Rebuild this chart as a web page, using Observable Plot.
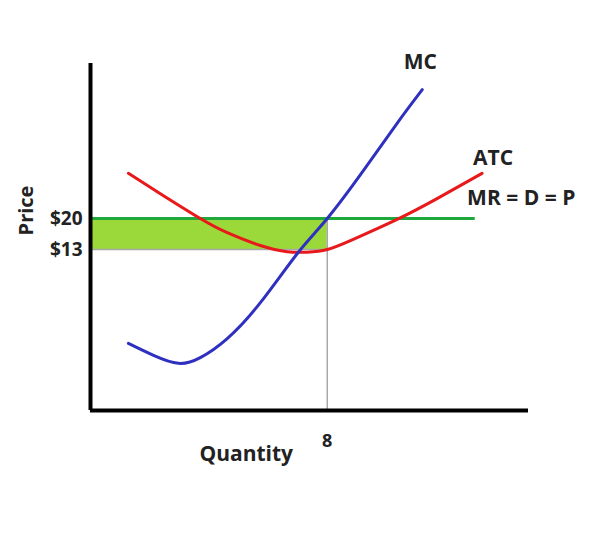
<!DOCTYPE html>
<html>
<head>
<meta charset="utf-8">
<script src="https://cdn.jsdelivr.net/npm/d3@7"></script>
<script src="https://cdn.jsdelivr.net/npm/@observablehq/plot@0.6"></script>
<style>
  html, body { margin: 0; padding: 0; background: #fff; }
  #chart svg { display: block; }
</style>
</head>
<body>
<div id="chart"></div>
<script>
// Market price (MR = D = P), ATC at the profit-maximising quantity, and that quantity
const price = 20;
const atcAtQ = 13;
const qStar = 8;
const qMax = 14.8;    // end of quantity axis
const pMin = -23.35;  // price level at the (schematic) quantity axis
const pMax = 55;      // top of price axis
const mrEnd = 13.0;   // where the MR = D = P line stops

// Marginal cost curve (schematic price units)
const mcQ = [1.28, 2.13, 2.97, 3.71, 4.62, 5.74, 6.99, 8.0, 9.22, 10.36, 11.21];
const mcP = [-8.2, -10.9, -12.7, -11.4, -7.1, 1.0, 12.1, 20, 30.8, 41.5, 49.1];

// Average total cost curve
const atcQ = [1.28, 2.36, 3.71, 4.62, 5.74, 6.65, 7.32, 8.0, 8.88, 10.36, 11.71, 13.23];
const atcP = [30.2, 25.6, 20.0, 16.8, 13.9, 12.5, 12.4, 13.0, 15.3, 19.8, 24.5, 30.2];

// Tick labels
const priceTicks = [13, 20];
const priceTickLabels = ["$13", "$20"];
const qTicks = [8];
const qTickLabels = ["8"];

const mc = mcQ.map((q, i) => ({q, p: mcP[i]}));
const atc = atcQ.map((q, i) => ({q, p: atcP[i]}));

const font = "Open Sans";
const ink = "#222";

const chart = Plot.plot({
  width: 603,
  height: 544,
  marginLeft: 90,
  marginRight: 75,
  marginTop: 63,
  marginBottom: 134,
  style: {fontFamily: font, background: "#fff"},
  x: {domain: [0, qMax], axis: null},
  y: {domain: [pMin, pMax], axis: null},
  marks: [
    // profit rectangle
    Plot.rect([{}], {x1: 0, x2: qStar, y1: atcAtQ, y2: price, fill: "#9bd93a"}),
    // guide lines
    Plot.ruleY([atcAtQ], {x1: 0, x2: qStar, stroke: "#a8a8a8", strokeWidth: 1.5}),
    Plot.ruleX([qStar], {y1: pMin, y2: price, stroke: "#a8a8a8", strokeWidth: 1.5}),
    // MR = D = P
    Plot.ruleY([price], {x1: 0, x2: mrEnd, stroke: "#1fa83c", strokeWidth: 3}),
    // ATC
    Plot.line(atc, {x: "q", y: "p", stroke: "#e8191b", strokeWidth: 3, curve: "natural"}),
    // MC
    Plot.line(mc, {x: "q", y: "p", stroke: "#2f30c0", strokeWidth: 3, curve: "natural"}),
    // axes
    Plot.ruleX([0], {y1: pMin, y2: pMax, stroke: "#000", strokeWidth: 4}),
    Plot.ruleY([pMin], {x1: 0, x2: qMax, stroke: "#000", strokeWidth: 4}),
    // tick labels
    Plot.text(priceTicks, {x: 0, y: d => d, text: (d, i) => priceTickLabels[i], textAnchor: "end", dx: -8, fontSize: 19, fontWeight: "bold", fill: ink}),
    Plot.text(qTicks, {x: d => d, y: pMin, text: (d, i) => qTickLabels[i], dy: 31, fontSize: 18, fontWeight: "bold", fill: ink}),
    // axis titles
    Plot.text(["Price"], {x: 0, y: price, text: d => d, rotate: -90, dx: -64, dy: -8, fontSize: 20, fontWeight: "bold", fill: ink}),
    Plot.text(["Quantity"], {x: qStar, y: pMin, text: d => d, dx: -81, dy: 44, fontSize: 21, fontWeight: "bold", fill: ink}),
    // curve labels
    Plot.text([mc[mc.length - 1]], {x: "q", y: "p", text: () => "MC", dx: -2, dy: -27, fontSize: 21, fontWeight: "bold", fill: ink}),
    Plot.text([atc[atc.length - 1]], {x: "q", y: "p", text: () => "ATC", dx: 11, dy: -15, fontSize: 21, fontWeight: "bold", fill: ink}),
    Plot.text([mrEnd], {x: d => d, y: price, text: () => "MR = D = P", dx: 46, dy: -20, fontSize: 21, fontWeight: "bold", fill: ink})
  ]
});
document.getElementById("chart").appendChild(chart);
</script>
</body>
</html>
